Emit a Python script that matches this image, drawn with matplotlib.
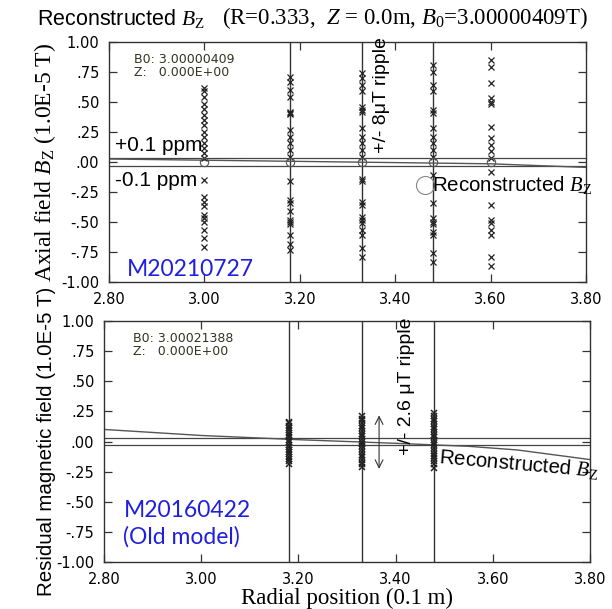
import matplotlib
matplotlib.use("Agg")
import matplotlib.pyplot as plt

plt.rcParams["mathtext.fontset"] = "custom"
plt.rcParams["mathtext.rm"] = "Liberation Serif"
plt.rcParams["mathtext.it"] = "Liberation Serif:italic"

SANS = "Liberation Sans"
SERIF = "Liberation Serif"
TICKFONT = "DejaVu Sans"
BLUE = "#1f1fe0"

# Data (units of 1.0E-5 T)
x_ticks = [2.80, 3.00, 3.20, 3.40, 3.60, 3.80]
x_tick_labels = ["2.80", "3.00", "3.20", "3.40", "3.60", "3.80"]
y_ticks = [1.00, 0.75, 0.50, 0.25, 0.00, -0.25, -0.50, -0.75, -1.00]
y_tick_labels = ["1.00", ".75", ".50", ".25", ".00", "-.25", "-.50", "-.75", "-1.00"]

# top panel: M20210727
top_r = [3.00, 3.18, 3.33, 3.48, 3.60]
top_bz_300 = [0.62, 0.59, 0.54, 0.48, 0.44, 0.39, 0.35, 0.31, 0.25, 0.21, 0.16, 0.12,
              0.075, 0.03, -0.15, -0.29, -0.33, -0.37, -0.44, -0.47, -0.50, -0.57, -0.63, -0.71]
top_bz_318 = [0.71, 0.67, 0.60, 0.54, 0.42, 0.41, 0.40, 0.27, 0.21, 0.16, 0.10, 0.04,
              -0.16, -0.32, -0.34, -0.41, -0.48, -0.50, -0.52, -0.61, -0.68, -0.73]
top_bz_333 = [0.74, 0.70, 0.64, 0.59, 0.46, 0.43, 0.42, 0.28, 0.21, 0.16, 0.10, 0.04,
              -0.14, -0.16, -0.33, -0.36, -0.46, -0.48, -0.51, -0.57, -0.61, -0.72, -0.79]
top_bz_348 = [0.81, 0.75, 0.64, 0.59, 0.43, 0.41, 0.28, 0.21, 0.16, 0.10, 0.04,
              -0.11, -0.34, -0.47, -0.50, -0.52, -0.58, -0.61, -0.76, -0.83]
top_bz_360 = [0.85, 0.79, 0.66, 0.53, 0.50, 0.48, 0.29, 0.20, 0.14, 0.09, 0.03,
              -0.08, -0.36, -0.48, -0.51, -0.57, -0.61, -0.79, -0.87]
top_curve_r = [2.80, 3.00, 3.20, 3.40, 3.60, 3.70, 3.80]
top_curve_bz = [0.025, 0.015, 0.005, -0.005, -0.015, -0.03, -0.045]
top_vlines = [3.18, 3.33, 3.48]

# bottom panel: M20160422 (old model)
bot_r = [3.18, 3.33, 3.48]
bot_bz_318 = [0.165, 0.15, 0.13, 0.11, 0.095, 0.07, 0.05, 0.035, 0.01, -0.005, -0.03,
              -0.045, -0.07, -0.09, -0.10, -0.125, -0.145, -0.16, -0.19]
bot_bz_333 = [0.21, 0.19, 0.175, 0.15, 0.13, 0.11, 0.09, 0.065, 0.045, 0.02, 0.0, -0.02,
              -0.04, -0.065, -0.085, -0.11, -0.13, -0.15, -0.175, -0.19, -0.21]
bot_bz_348 = [0.235, 0.21, 0.19, 0.17, 0.145, 0.12, 0.10, 0.08, 0.055, 0.035, 0.01, -0.01,
              -0.03, -0.05, -0.075, -0.10, -0.12, -0.14, -0.165, -0.19, -0.22]
bot_curve_r = [2.80, 3.00, 3.20, 3.40, 3.55, 3.65, 3.80]
bot_curve_bz = [0.10, 0.05, 0.015, -0.015, -0.04, -0.07, -0.15]

ppm_band = 0.03  # +/-0.1 ppm of 3 T


def style_axes(ax):
    ax.set_xlim(2.80, 3.80)
    ax.set_ylim(-1.0, 1.0)
    ax.set_xticks(x_ticks)
    ax.set_xticklabels(x_tick_labels, fontfamily=TICKFONT, fontsize=10.5)
    ax.set_yticks(y_ticks)
    ax.set_yticklabels(y_tick_labels, fontfamily=TICKFONT, fontsize=10.5)
    ax.tick_params(direction="in", length=6, width=0.9, color="#333333",
                   top=True, right=True, pad=7)
    for s in ax.spines.values():
        s.set_color("#333333")
        s.set_linewidth(1.0)


def draw_columns(ax, rs, cols, ms=4, mew=0.9):
    for r, vals in zip(rs, cols):
        ax.plot([r] * len(vals), vals, ls="none", marker="x", ms=ms,
                mew=mew, color="#222222")


fig = plt.figure(figsize=(6.12, 6.09), dpi=100)
W, H = 612, 609

# ---- top panel
ax1 = fig.add_axes([109 / W, 1 - 282 / H, 477 / W, 240 / H])
style_axes(ax1)
for r in top_vlines:
    ax1.axvline(r, color="#333333", lw=1.0)
ax1.axhline(ppm_band, color="#444444", lw=0.9)
ax1.axhline(-ppm_band, color="#444444", lw=0.9)
ax1.plot(top_curve_r, top_curve_bz, color="#555555", lw=1.0)
draw_columns(ax1, top_r, [top_bz_300, top_bz_318, top_bz_333, top_bz_348, top_bz_360])
ax1.plot(top_r, [0] * len(top_r), ls="none", marker="o", ms=6, mfc="none",
         mec="#555555", mew=0.8)

ax1.text(0.052, 0.955, "B0: 3.00000409\nZ:   0.000E+00", transform=ax1.transAxes,
         fontfamily=TICKFONT, fontsize=9, va="top", ha="left", color="#333322",
         linespacing=1.0)
ax1.text(2.813, 0.14, "+0.1 ppm", fontfamily=SANS, fontsize=15, va="center")
ax1.text(2.813, -0.15, "-0.1 ppm", fontfamily=SANS, fontsize=15, va="center")
ax1.text(3.372, 0.56, "+/- 8\u03bcT ripple", fontfamily=SANS, fontsize=14,
         rotation=90, ha="center", va="center")
ax1.plot([3.462], [-0.19], ls="none", marker="o", ms=13, mfc="none",
         mec="#888888", mew=0.8)
ax1.text(3.478, -0.19, r"Reconstructed $B_{\rm Z}$", fontfamily=SANS, fontsize=14.8,
         va="center", ha="left")
ax1.text(2.837, -0.9, "M20210727", fontfamily="Lato", fontsize=16.5, color=BLUE,
         va="center", ha="left")
ax1.set_ylabel(r"Axial field $B_{\rm Z}$ (1.0E-5 T)", fontfamily=SERIF, fontsize=17,
               labelpad=2)

# ---- bottom panel
ax2 = fig.add_axes([104 / W, 1 - 562 / H, 486 / W, 241 / H])
style_axes(ax2)
for r in bot_r:
    ax2.axvline(r, color="#333333", lw=1.0)
ax2.axhline(ppm_band, color="#444444", lw=0.9)
ax2.axhline(-ppm_band, color="#444444", lw=0.9)
ax2.plot(bot_curve_r, bot_curve_bz, color="#555555", lw=1.0)
draw_columns(ax2, bot_r, [bot_bz_318, bot_bz_333, bot_bz_348], ms=4, mew=1.1)

ax2.text(0.06, 0.955, "B0: 3.00021388\nZ:   0.000E+00", transform=ax2.transAxes,
         fontfamily=TICKFONT, fontsize=9, va="top", ha="left", color="#333322",
         linespacing=1.0)
ax2.annotate("", xy=(3.366, 0.24), xytext=(3.366, -0.25),
             arrowprops=dict(arrowstyle="<->", color="#333333", lw=0.8,
                             mutation_scale=14))
ax2.text(3.422, 0.46, "+/- 2.6 \u03bcT ripple", fontfamily=SANS, fontsize=14,
         rotation=90, ha="center", va="center")
ax2.text(3.488, -0.19, r"Reconstructed $B_{\rm Z}$", fontfamily=SANS, fontsize=14.8,
         rotation=-5, va="center", ha="left")
ax2.text(2.84, -0.68, "M20160422\n(Old model)", fontfamily="Lato", fontsize=16.5,
         color=BLUE, va="center", ha="left", linespacing=1.3)
ax2.set_ylabel("Residual magnetic field (1.0E-5 T)", fontfamily=SANS, fontsize=14.8,
               labelpad=0)
ax2.set_xlabel("Radial position (0.1 m)", fontfamily=SERIF, fontsize=16.5, labelpad=1)

# ---- title
fig.text(37 / W, 1 - 18 / H, r"Reconstructed $B_{\rm Z}$", fontfamily=SANS,
         fontsize=15.5, va="center", ha="left")
fig.text(222 / W, 1 - 18 / H,
         r"(R=0.333,  $Z$ = 0.0m, $B_0$=3.00000409T)",
         fontfamily=SERIF, fontsize=16.5, va="center", ha="left")

fig.savefig("out.png", dpi=100)
